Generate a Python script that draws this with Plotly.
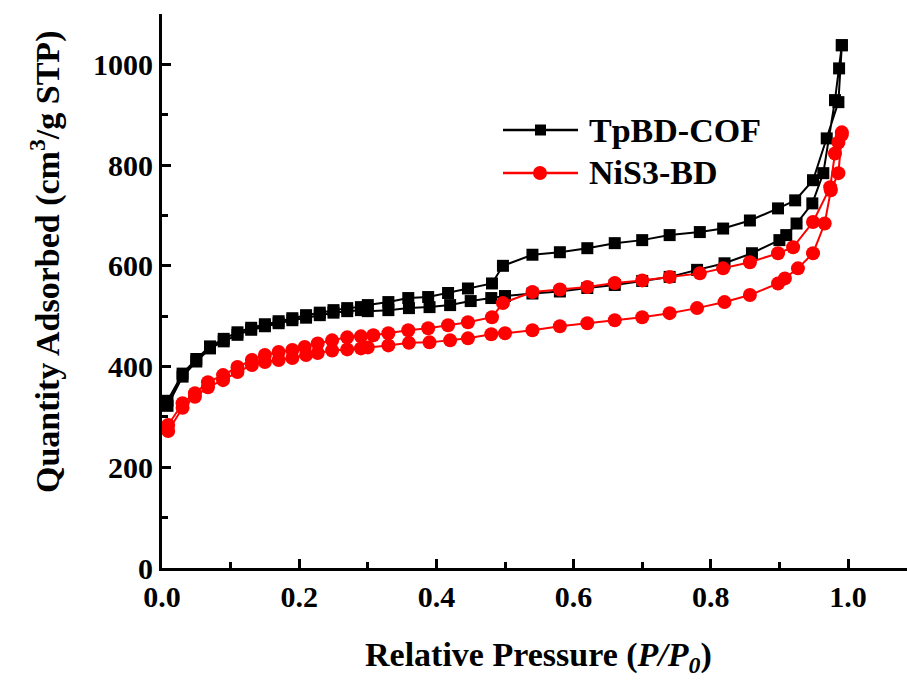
import plotly.graph_objects as go

# ---------------- data ----------------
tp_ads_x = [0.008, 0.03, 0.05, 0.07, 0.09, 0.11, 0.13, 0.15, 0.17, 0.19, 0.21, 0.23, 0.25, 0.27, 0.29,
            0.30, 0.33, 0.36, 0.39, 0.42, 0.45, 0.48, 0.50, 0.54, 0.58, 0.62, 0.66, 0.70, 0.74, 0.78,
            0.82, 0.86, 0.90, 0.91, 0.925, 0.948, 0.964, 0.981, 0.987, 0.991]
tp_ads_y = [322, 380, 410, 436, 450, 463, 473, 480, 486, 492, 497, 502, 507, 510, 512,
            510, 512, 516, 518, 522, 530, 536, 540, 545, 549, 556, 562, 570, 578, 592,
            605, 625, 651, 661, 684, 724, 784, 929, 992, 1038]
tp_des_x = [0.991, 0.986, 0.969, 0.949, 0.923, 0.898, 0.857, 0.818, 0.784, 0.74, 0.70, 0.66, 0.62,
            0.58, 0.54, 0.497, 0.481, 0.446, 0.417, 0.388, 0.359, 0.33, 0.30, 0.29, 0.27, 0.25, 0.23,
            0.21, 0.19, 0.17, 0.15, 0.13, 0.11, 0.09, 0.07, 0.05, 0.03, 0.008]
tp_des_y = [1038, 925, 853, 770, 730, 714, 690, 674, 667, 661, 651, 645, 635,
            627, 622, 600, 565, 555, 546, 538, 536, 528, 522, 518, 516, 512, 507,
            502, 496, 490, 484, 477, 468, 455, 440, 415, 386, 332]

ni_ads_x = [0.009, 0.03, 0.048, 0.067, 0.089, 0.11, 0.131, 0.15, 0.17, 0.19, 0.21, 0.227, 0.248, 0.27,
            0.29, 0.30, 0.33, 0.36, 0.39, 0.42, 0.446, 0.48, 0.50, 0.54, 0.58, 0.62, 0.66, 0.70, 0.74,
            0.78, 0.82, 0.857, 0.898, 0.908, 0.927, 0.949, 0.966, 0.975, 0.986, 0.991]
ni_ads_y = [272, 318, 340, 359, 373, 389, 403, 409, 413, 417, 423, 427, 432, 434,
            436, 438, 442, 447, 448, 452, 456, 464, 466, 472, 480, 486, 492, 498, 506,
            516, 528, 542, 565, 575, 595, 625, 684, 750, 784, 860]
ni_des_x = [0.991, 0.986, 0.981, 0.974, 0.949, 0.92, 0.898, 0.857, 0.818, 0.784, 0.74, 0.70, 0.66,
            0.62, 0.58, 0.54, 0.497, 0.481, 0.446, 0.417, 0.388, 0.359, 0.33, 0.308, 0.29, 0.27, 0.248,
            0.227, 0.208, 0.19, 0.17, 0.15, 0.131, 0.11, 0.089, 0.067, 0.048, 0.03, 0.009]
ni_des_y = [865, 845, 823, 756, 687, 637, 625, 607, 595, 585, 578, 571, 566,
            558, 553, 548, 526, 498, 488, 482, 476, 472, 466, 462, 460, 458, 452,
            446, 439, 433, 429, 423, 413, 399, 383, 369, 347, 327, 284]

series_names = ["TpBD-COF", "NiS3-BD"]
x_ticks = [0.0, 0.2, 0.4, 0.6, 0.8, 1.0]
y_ticks = [0, 200, 400, 600, 800, 1000]

# ---------------- layout constants ----------------
W, H = 907, 682
L, R, T, B = 162, 0, 14, 114
PW, PH = W - L - R, H - T - B

def px(xp):
    return (xp - L) / PW

def py(yp):
    return (H - B - yp) / PH

FONT = "Liberation Serif"

fig = go.Figure()
fig.add_trace(go.Scatter(
    x=tp_ads_x + tp_des_x, y=tp_ads_y + tp_des_y, mode="lines+markers",
    name=series_names[0], line=dict(color="black", width=2),
    marker=dict(symbol="square", size=12, color="black"), showlegend=False))
fig.add_trace(go.Scatter(
    x=ni_ads_x + ni_des_x, y=ni_ads_y + ni_des_y, mode="lines+markers",
    name=series_names[1], line=dict(color="#ff0000", width=2),
    marker=dict(symbol="circle", size=14, color="#ff0000"), showlegend=False))

axis_common = dict(
    showline=True, linecolor="black", linewidth=3, ticks="inside", ticklen=9,
    tickwidth=2.5, tickcolor="black", showgrid=False, zeroline=False,
    tickfont=dict(family=FONT, size=30, color="black", weight="bold"),
)
fig.update_xaxes(range=[0, 1.086], tickvals=x_ticks,
                 ticktext=[f"{v:.1f}" for v in x_ticks],
                 minor=dict(dtick=0.1, ticks="inside", ticklen=6, tickwidth=2.5, tickcolor="black", tick0=0),
                 **axis_common)
fig.update_yaxes(range=[0, 1100], tickvals=y_ticks,
                 ticktext=[str(v) for v in y_ticks],
                 minor=dict(dtick=100, ticks="inside", ticklen=6, tickwidth=2.5, tickcolor="black", tick0=0),
                 **axis_common)

# axis titles
fig.add_annotation(x=px(538), y=py(657), xref="paper", yref="paper", showarrow=False,
                   xanchor="center", yanchor="middle",
                   text="Relative Pressure (<i>P/P<sub>0</sub></i>)",
                   font=dict(family=FONT, size=34, color="black", weight="bold"))
fig.add_annotation(x=px(45), y=py(262), xref="paper", yref="paper", showarrow=False, textangle=-90,
                   xanchor="center", yanchor="middle",
                   text="Quantity Adsorbed (cm<sup>3</sup>/g STP)",
                   font=dict(family=FONT, size=34, color="black", weight="bold"))

# custom legend
leg_rows = [(130, "black", "square"), (173, "#ff0000", "circle")]
for (yrow, col, sym), name in zip(leg_rows, series_names):
    fig.add_shape(type="line", xref="paper", yref="paper", x0=px(503), x1=px(578),
                  y0=py(yrow), y1=py(yrow), line=dict(color=col, width=2.5))
    if sym == "square":
        fig.add_shape(type="rect", xref="paper", yref="paper", x0=px(535), x1=px(546),
                      y0=py(yrow + 5.5), y1=py(yrow - 5.5), fillcolor=col, line=dict(width=0))
    else:
        fig.add_shape(type="circle", xref="paper", yref="paper", x0=px(533), x1=px(547),
                      y0=py(yrow + 7), y1=py(yrow - 7), fillcolor=col, line=dict(width=0))
    fig.add_annotation(x=px(587), y=py(yrow), xref="paper", yref="paper", showarrow=False,
                       xanchor="left", yanchor="middle", text=name,
                       font=dict(family=FONT, size=34, color="black", weight="bold"))

fig.update_layout(width=W, height=H, margin=dict(l=L, r=R, t=T, b=B),
                  plot_bgcolor="white", paper_bgcolor="white")

fig.write_html("out.html")
